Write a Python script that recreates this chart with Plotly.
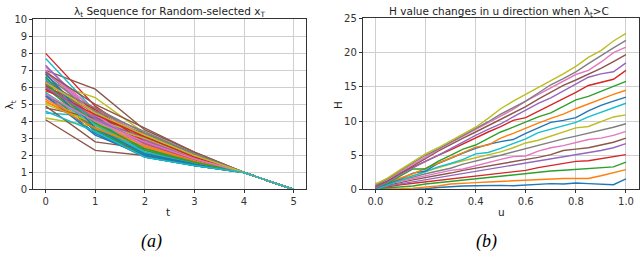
import plotly.graph_objects as go

# ---------------- Data: panel (a) ----------------
t_steps = [0, 1, 2, 3, 4, 5]
lam_t0 = [5.6, 6.2, 6.1, 8.0, 6.9, 7.0, 7.2, 6.5, 6.4, 7.7,
          6.6, 5.9, 6.0, 5.8, 5.5, 4.1, 5.4, 6.8, 4.2, 4.5,
          6.3, 6.0, 5.7, 6.1, 7.3, 4.9, 6.9, 6.7, 5.1, 6.5,
          5.5, 5.3, 6.6, 6.3, 6.4, 4.8, 7.0, 5.9, 5.0, 5.7,
          6.8, 5.2, 6.2, 5.9, 6.0, 6.9, 5.6, 6.2, 6.3, 4.6]
lam_t1 = [3.3, 4.0, 3.7, 4.9, 4.4, 5.9, 4.6, 4.2, 5.4, 4.6,
          3.5, 4.1, 3.6, 4.8, 4.0, 2.3, 3.9, 3.8, 3.7, 4.3,
          3.4, 4.3, 3.5, 4.5, 4.3, 2.8, 4.7, 4.5, 4.1, 3.9,
          3.2, 3.8, 4.0, 4.7, 4.1, 4.2, 4.4, 4.6, 3.9, 3.8,
          3.6, 3.6, 3.9, 4.4, 4.2, 5.0, 4.0, 4.8, 4.5, 3.4]
lam_t2 = [1.9, 2.6, 2.2, 2.9, 3.1, 3.5, 2.8, 3.0, 3.3, 2.4,
          2.0, 2.7, 2.1, 3.0, 2.9, 2.0, 2.6, 2.3, 2.5, 1.9,
          1.9, 2.8, 2.0, 2.7, 2.9, 2.4, 3.2, 3.1, 3.2, 2.1,
          2.0, 2.6, 2.3, 2.8, 3.0, 3.3, 2.5, 3.4, 3.0, 2.2,
          2.1, 2.5, 2.4, 3.1, 2.7, 3.6, 2.8, 3.3, 3.2, 1.9]
lam_t3 = [1.4, 1.6, 1.5, 1.7, 2.0, 2.2, 1.8, 1.9, 2.0, 1.5,
          1.4, 1.7, 1.5, 1.6, 1.9, 1.6, 1.7, 1.5, 1.6, 1.4,
          1.4, 1.8, 1.4, 1.7, 1.8, 1.7, 2.0, 2.1, 2.0, 1.5,
          1.5, 1.7, 1.6, 1.8, 2.0, 2.1, 1.6, 2.1, 1.9, 1.5,
          1.5, 1.6, 1.6, 1.9, 1.8, 2.2, 1.8, 2.1, 2.0, 1.4]
lam_t4 = [1.0] * 50
lam_t5 = [0.0] * 50

# ---------------- Data: panel (b) ----------------
u_vals = [0.00, 0.05, 0.10, 0.15, 0.20, 0.25, 0.30, 0.35, 0.40, 0.45, 0.50,
          0.55, 0.60, 0.65, 0.70, 0.75, 0.80, 0.85, 0.90, 0.95, 1.00]
H_lines = [
    [0.05, 0.0, 0.0, 0.05, 0.1, 0.3, 0.45, 0.5, 0.55, 0.6, 0.6, 0.55, 0.65, 0.7, 0.85, 0.8, 0.95, 0.85, 0.75, 0.7, 1.55],
    [0.0, 0.0, 0.1, 0.2, 0.3, 0.5, 0.8, 0.95, 1.0, 1.1, 1.2, 1.25, 1.3, 1.4, 1.6, 1.6, 1.6, 1.6, 2.0, 2.5, 2.9],
    [0.1, 0.2, 0.3, 0.5, 0.8, 1.0, 1.2, 1.4, 1.5, 1.7, 1.9, 2.1, 2.3, 2.6, 2.7, 2.8, 2.9, 3.0, 3.1, 3.3, 4.0],
    [0.3, 0.4, 0.7, 0.9, 1.1, 1.4, 1.6, 1.8, 2.0, 2.2, 2.4, 2.6, 2.8, 3.2, 3.5, 3.8, 4.1, 4.2, 4.5, 4.8, 5.1],
    [0.2, 0.5, 0.8, 1.1, 1.5, 1.7, 2.0, 2.3, 2.6, 2.9, 3.2, 3.5, 3.8, 4.1, 4.5, 4.8, 5.1, 5.4, 5.7, 6.1, 6.7],
    [0.3, 0.6, 1.0, 1.4, 1.7, 2.1, 2.4, 2.8, 3.1, 3.5, 3.7, 4.1, 4.4, 4.7, 5.1, 5.7, 5.9, 6.1, 6.5, 6.9, 7.5],
    [0.9, 0.8, 1.2, 1.6, 2.0, 2.5, 2.8, 3.0, 3.5, 3.9, 4.4, 4.8, 4.9, 5.6, 6.1, 6.4, 6.8, 7.3, 7.5, 7.9, 8.5],
    [0.5, 0.9, 1.3, 1.8, 2.3, 2.7, 3.1, 3.7, 4.2, 4.6, 5.0, 5.5, 6.0, 6.5, 6.9, 7.4, 7.8, 8.2, 8.7, 9.1, 9.6],
    [0.4, 0.9, 1.4, 2.0, 2.6, 3.2, 3.7, 4.2, 4.6, 5.1, 5.5, 6.1, 6.8, 7.2, 7.8, 8.4, 9.0, 9.2, 9.9, 10.6, 10.9],
    [0.0, 0.7, 1.4, 2.0, 2.6, 3.3, 3.8, 4.4, 5.2, 5.4, 6.0, 6.7, 7.4, 8.3, 8.8, 9.2, 9.8, 10.6, 11.3, 11.9, 12.6],
    [0.2, 0.8, 1.5, 2.4, 2.7, 3.8, 4.6, 5.3, 6.0, 6.6, 7.0, 7.3, 8.2, 9.0, 9.8, 10.1, 10.5, 11.5, 12.3, 12.9, 13.5],
    [0.4, 1.0, 1.6, 2.3, 3.1, 3.8, 4.6, 5.4, 6.2, 6.5, 7.5, 8.2, 9.0, 9.7, 10.4, 11.0, 11.8, 12.5, 13.3, 13.9, 14.5],
    [0.3, 0.9, 2.0, 3.0, 3.0, 4.1, 5.0, 5.9, 6.5, 7.5, 8.4, 9.1, 9.9, 10.6, 11.2, 12.1, 13.1, 13.6, 14.3, 15.1, 15.8],
    [0.2, 1.2, 2.4, 3.3, 4.1, 5.0, 5.8, 6.7, 7.5, 8.4, 9.2, 10.1, 10.5, 11.4, 12.4, 13.3, 14.2, 15.2, 15.7, 16.1, 17.4],
    [0.2, 1.1, 2.2, 3.2, 4.1, 5.0, 6.0, 6.9, 7.9, 8.8, 9.6, 10.6, 11.6, 12.6, 13.4, 14.4, 15.5, 16.4, 16.9, 17.2, 18.5],
    [0.5, 1.3, 2.4, 3.4, 4.5, 5.6, 6.6, 7.5, 8.4, 9.3, 10.3, 11.1, 12.1, 13.2, 14.2, 15.2, 16.0, 16.8, 17.7, 18.7, 19.7],
    [0.7, 1.5, 2.6, 3.7, 4.7, 5.8, 6.8, 7.8, 8.8, 9.8, 10.8, 11.7, 12.9, 13.9, 14.9, 15.9, 16.8, 17.4, 18.6, 20.0, 20.8],
    [0.6, 1.6, 2.8, 3.9, 5.0, 5.9, 6.9, 7.8, 8.8, 9.9, 11.0, 11.9, 12.9, 14.1, 15.3, 16.2, 17.2, 18.4, 19.6, 20.7, 21.8],
    [0.8, 1.7, 2.9, 4.0, 5.2, 6.1, 7.1, 8.1, 9.1, 10.4, 11.8, 12.9, 13.9, 14.9, 15.8, 16.9, 18.0, 19.3, 20.3, 21.7, 22.8],
]

a_xticks = [0, 1, 2, 3, 4, 5]
a_yticks = [0, 1, 2, 3, 4, 5, 6, 7, 8, 9, 10]
b_xticks = [0.0, 0.2, 0.4, 0.6, 0.8, 1.0]
b_yticks = [0, 5, 10, 15, 20, 25]

tab10 = ["#1f77b4", "#ff7f0e", "#2ca02c", "#d62728", "#9467bd",
         "#8c564b", "#e377c2", "#7f7f7f", "#bcbd22", "#17becf"]

W, H = 640, 258
fig = go.Figure()

cols = [lam_t0, lam_t1, lam_t2, lam_t3, lam_t4, lam_t5]
for i in range(len(lam_t0)):
    fig.add_trace(go.Scatter(
        x=t_steps, y=[c[i] for c in cols], mode="lines",
        line=dict(color=tab10[i % 10], width=1.4),
        xaxis="x", yaxis="y", showlegend=False, hoverinfo="skip"))

for i, line in enumerate(H_lines):
    fig.add_trace(go.Scatter(
        x=u_vals, y=line, mode="lines",
        line=dict(color=tab10[i % 10], width=1.4),
        xaxis="x2", yaxis="y2", showlegend=False, hoverinfo="skip"))

def px_x(p):
    return p / W

def px_y(p):
    return 1 - p / H

tickfont = dict(family="DejaVu Sans", size=10, color="#333333")
axis_common = dict(showline=True, linecolor="#333333", linewidth=1, mirror=True,
                   ticks="outside", ticklen=3, tickcolor="#333333", tickwidth=1,
                   showgrid=True, gridcolor="#cfcfcf", gridwidth=1,
                   zeroline=False, tickfont=tickfont)

fig.update_layout(
    width=W, height=H,
    margin=dict(l=0, r=0, t=0, b=0),
    paper_bgcolor="white", plot_bgcolor="white",
    xaxis=dict(domain=[px_x(33.3), px_x(306.5)], range=[-0.25, 5.25],
               tickvals=a_xticks, anchor="y", **axis_common),
    yaxis=dict(domain=[px_y(192.7), px_y(15)], range=[0, 10],
               tickvals=a_yticks, anchor="x", **axis_common),
    xaxis2=dict(domain=[px_x(363.4), px_x(639.5)], range=[-0.05, 1.05],
                tickvals=b_xticks, tickformat=".1f", anchor="y2", **axis_common),
    yaxis2=dict(domain=[px_y(192.7), px_y(14)], range=[0, 25],
                tickvals=b_yticks, anchor="x2", **axis_common),
)

def ann(text, x, y, size, family="DejaVu Sans", angle=0, color="#222222"):
    fig.add_annotation(text=text, x=px_x(x), y=px_y(y), xref="paper", yref="paper",
                       showarrow=False, xanchor="center", yanchor="middle",
                       textangle=angle, font=dict(family=family, size=size, color=color))

ann("λ<sub>t</sub> Sequence for Random-selected x<sub>T</sub>", 170, 7, 10.5)
ann("H value changes in u direction when λ<sub>t</sub>>C", 500, 7, 10.5)
ann("t", 168, 216, 10.5)
ann("u", 502, 216, 10.5)
ann("λ<sub>t</sub>", 10, 104, 10.5, angle=-90)
ann("H", 338, 104, 10.5, angle=-90)
ann("<i>(a)</i>", 152, 247, 18, family="Liberation Serif", color="#000000")
ann("<i>(b)</i>", 487, 247, 18, family="Liberation Serif", color="#000000")

fig.write_html("out.html",
               config={"displayModeBar": False, "staticPlot": True},
               post_script="document.body.style.margin='0';document.body.style.overflow='hidden';")
